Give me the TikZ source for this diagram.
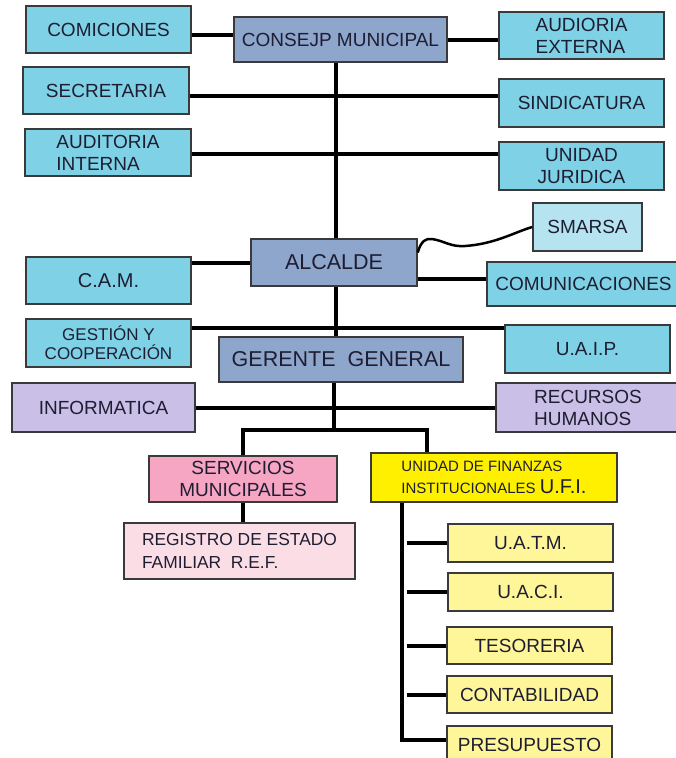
\documentclass[tikz,border=0pt]{standalone}
\usepackage{fontspec}
\setmainfont{Liberation Sans}
\usepackage{tikz}
\usetikzlibrary{calc, positioning}
\definecolor{cielo}{HTML}{7FD1E6}
\definecolor{cielof}{HTML}{B5E4F0}
\definecolor{mando}{HTML}{8EA5CC}
\definecolor{lila}{HTML}{CABFE6}
\definecolor{rosa}{HTML}{F6A5C3}
\definecolor{rosaf}{HTML}{FBDDE6}
\definecolor{amarillo}{HTML}{FFF000}
\definecolor{amarillof}{HTML}{FFF599}
\definecolor{borde}{HTML}{3A3A3A}
\definecolor{texto}{RGB}{30,30,50}

\begin{document}
\begin{tikzpicture}[x=1pt, y=-1pt,
  unidad/.style={draw=borde, line width=1.4pt, inner sep=2pt, text=texto,
    font=\fontsize{19}{22}\selectfont, align=center},
  caja/.style 2 args={minimum width=#1pt, minimum height=#2pt},
  linea/.style={line width=4pt, draw=black}]
\useasboundingbox (0,0) rectangle (676,758);

\node[unidad, fill=cielo, caja={165}{47}] (comiciones) at (108.5,29.5) {COMICIONES};
\node[unidad, fill=mando, caja={213}{45}] (consejo) at (340.5,39.5) {CONSEJP MUNICIPAL};
\node[unidad, fill=cielo, caja={165}{47}, align=left] (externa) at (581.5,35.5) {AUDIORIA\\EXTERNA};
\node[unidad, fill=cielo, caja={166}{47}] (secretaria) at (106,90.5) {SECRETARIA};
\node[unidad, fill=cielo, caja={165}{48}] (sindicatura) at (581.5,103) {SINDICATURA};
\node[unidad, fill=cielo, caja={166}{47}, align=left] (ainterna) at (108,152.5) {AUDITORIA\\INTERNA};
\node[unidad, fill=cielo, caja={165}{48}] (juridica) at (581.5,166) {UNIDAD\\JURIDICA};
\node[unidad, fill=cielof, caja={109}{48}] (smarsa) at (587.5,227) {SMARSA};
\node[unidad, fill=mando, caja={166}{47}, font=\fontsize{21.5}{24}\selectfont] (alcalde) at (334,262.5) {ALCALDE};
\node[unidad, fill=cielo, caja={165}{47}, font=\fontsize{20}{22}\selectfont] (cam) at (108.5,280.5) {C.A.M.};
\node[unidad, fill=cielo, caja={193}{44}] (comunic) at (583.5,284) {COMUNICACIONES};
\node[unidad, fill=cielo, caja={165}{48}, font=\fontsize{17}{19}\selectfont] (gestion) at (108.5,343) {GESTIÓN Y\\COOPERACIÓN};
\node[unidad, fill=cielo, caja={165}{48}] (uaip) at (587.5,349) {U.A.I.P.};
\node[unidad, fill=mando, caja={244}{45}, font=\fontsize{21.5}{24}\selectfont] (gerente) at (341,359.5) {GERENTE\ \ GENERAL};
\node[unidad, fill=lila, caja={183}{49}] (informatica) at (103.5,407.5) {INFORMATICA};
\node[unidad, fill=lila, caja={184}{49}, align=left] (recursos) at (588,407.5) {RECURSOS\\HUMANOS};
\node[unidad, fill=rosa, caja={188}{46}] (servicios) at (243,479) {SERVICIOS\\MUNICIPALES};
\node[unidad, fill=amarillo, caja={246}{49}, align=left, font=\fontsize{15}{22}\selectfont] (ufi) at (494,477.5)
  {UNIDAD DE FINANZAS\\INSTITUCIONALES {\fontsize{20}{22}\selectfont U.F.I.}};
\node[unidad, fill=rosaf, caja={231}{56}, align=left, font=\fontsize{17.4}{23}\selectfont] (registro) at (239.5,551)
  {REGISTRO DE ESTADO\\FAMILIAR\ \ R.E.F.};
\node[unidad, fill=amarillof, caja={165}{38}] (uatm) at (530.5,543) {U.A.T.M.};
\node[unidad, fill=amarillof, caja={165}{38}] (uaci) at (530.5,592) {U.A.C.I.};
\node[unidad, fill=amarillof, caja={165}{37}] (tesoreria) at (529.5,645.5) {TESORERIA};
\node[unidad, fill=amarillof, caja={165}{37}] (contab) at (529.5,694.5) {CONTABILIDAD};
\node[unidad, fill=amarillof, caja={165}{37}] (presup) at (529.5,744.5) {PRESUPUESTO};

\coordinate (eje) at (336,0);
\coordinate (rama) at (334,430);
\coordinate (eje2) at (402,0);
\coordinate (tope) at (407,0);

\draw[linea] ([yshift=-5.5pt]comiciones.east) -- ([yshift=-5.5pt]comiciones.east -| consejo.west);
\draw[linea] (consejo.east) -- (consejo.east -| externa.west);
\draw[linea] (consejo.south -| eje) -- (alcalde.north -| eje);
\draw[linea] ([yshift=-5.5pt]secretaria.east) -- ([yshift=-5.5pt]secretaria.east -| sindicatura.west);
\draw[linea] ([yshift=-1.5pt]ainterna.east) -- ([yshift=-1.5pt]ainterna.east -| juridica.west);
\draw[linea] (alcalde.west) -- (alcalde.west -| cam.east);
\draw[linea] ([yshift=-16.5pt]alcalde.east) -- ([yshift=-16.5pt]alcalde.east -| comunic.west);
\draw[line width=2.5pt] ([yshift=10pt]alcalde.east) .. controls (421,241) and (426,238) .. (432,239)
  .. controls (445,241) and (450,247) .. (465,246) .. controls (495,244) and (515,232) .. (smarsa.west);
\draw[linea] (alcalde.south -| eje) -- (gerente.north -| eje);
\draw[linea] ([yshift=15.5pt]gestion.east) -- ([yshift=15.5pt]gestion.east -| uaip.west);
\draw[linea] (informatica.east) -- (recursos.west);
\draw[linea] (gerente.south -| rama) -- (rama);
\draw[linea] (servicios.north) |- (rama) -| ([xshift=-67pt]ufi.north);
\draw[linea] (servicios.south) -- (servicios.south |- registro.north);
\draw[linea] (ufi.south -| eje2) |- ([yshift=4.5pt]presup.west);
\foreach \n in {uatm, uaci, tesoreria, contab}
  \draw[linea] (\n.west -| tope) -- (\n.west);
\end{tikzpicture}
\end{document}
